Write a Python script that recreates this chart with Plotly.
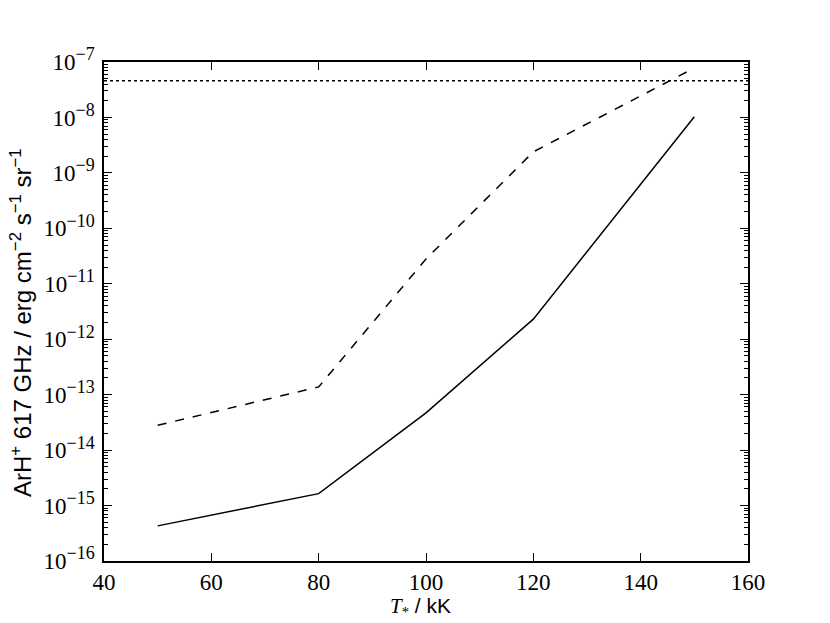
import plotly.graph_objects as go

T = [50, 80, 100, 120, 150]
solid_flux = [4.3e-16, 1.64e-15, 4.7e-14, 2.3e-12, 1.03e-8]
dashed_flux = [2.8e-14, 1.38e-13, 2.8e-11, 2.4e-9, 7.8e-8]
limit_x = [40, 160]
limit_y = [4.6e-8, 4.6e-8]

x_ticks = [40, 60, 80, 100, 120, 140, 160]
y_exps = list(range(-16, -6))

fig = go.Figure()
fig.add_trace(go.Scatter(x=T, y=solid_flux, mode="lines",
                         line=dict(color="black", width=1.5, dash="solid"), showlegend=False))
fig.add_trace(go.Scatter(x=T, y=dashed_flux, mode="lines",
                         line=dict(color="black", width=1.5, dash="dash"), showlegend=False))
fig.add_trace(go.Scatter(x=limit_x, y=limit_y, mode="lines",
                         line=dict(color="black", width=1.5, dash="dot"), showlegend=False))

serif = "Liberation Serif, DejaVu Serif, serif"
sans = "Liberation Sans, Arial, sans-serif"
# page body adds an 8px offset; compensate in size and margins
fig.update_layout(
    width=822, height=615,
    margin=dict(l=96, r=82, t=54, b=62),
    paper_bgcolor="white", plot_bgcolor="white",
    font=dict(family=serif, color="black", size=20),
)
fig.update_xaxes(
    range=[40, 160], tickvals=x_ticks, ticktext=[str(v) for v in x_ticks],
    ticks="inside", ticklen=8, tickwidth=1, tickcolor="black",
    showline=True, linecolor="black", linewidth=1.5, mirror="allticks",
    showgrid=False, zeroline=False, automargin=False,
    tickfont=dict(family=serif, size=23),
)
fig.update_yaxes(
    type="log", range=[-16, -7],
    tickvals=[10.0 ** e for e in y_exps],
    ticktext=["10<sup><span style='font-size:18px'>\u2212%d</span></sup>" % (-e) for e in y_exps],
    ticks="inside", ticklen=8, tickwidth=1, tickcolor="black",
    minor=dict(ticks="inside", ticklen=4, tickwidth=1, tickcolor="black", dtick="D1", showgrid=False),
    showline=True, linecolor="black", linewidth=1.5, mirror="allticks",
    showgrid=False, zeroline=False, automargin=False,
    tickfont=dict(family=serif, size=23),
    ticklabelstandoff=3,
)
fig.add_annotation(
    text="<i>T</i><sub>*</sub><span style='font-family:Liberation Sans'> / kK</span>",
    xref="paper", yref="paper", x=0.491, y=-0.092, xanchor="center", yanchor="middle",
    showarrow=False, font=dict(family=serif, size=21),
)
fig.add_annotation(
    text="ArH<sup>+</sup> 617 GHz / erg cm<sup>\u22122</sup> s<sup>\u22121</sup> sr<sup>\u22121</sup>",
    xref="paper", yref="paper", x=-0.128, y=0.478, xanchor="center", yanchor="middle",
    textangle=-90, showarrow=False, font=dict(family=sans, size=24),
)
fig.write_html("out.html")
